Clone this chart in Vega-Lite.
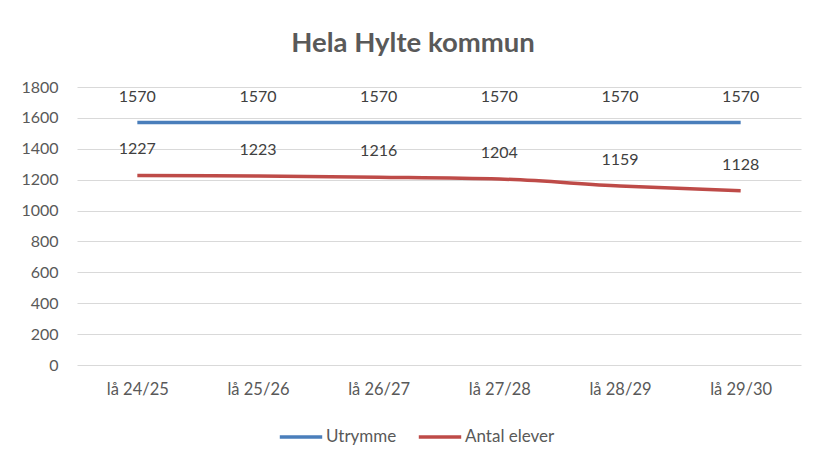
{
  "$schema": "https://vega.github.io/schema/vega-lite/v6.json",
  "width": 724,
  "height": 278,
  "autosize": {"type": "none"},
  "padding": {"left": 77, "top": 87, "right": 14, "bottom": 96},
  "background": "white",
  "config": {
    "font": "Lato",
    "view": {"stroke": null}
  },
  "title": {
    "text": "Hela Hylte kommun",
    "font": "Lato",
    "fontSize": 27.5,
    "fontWeight": "bold",
    "color": "#595959",
    "anchor": "middle",
    "dx": -26,
    "offset": 22
  },
  "data": {
    "values": [
      {"year": "lå 24/25", "series": "Utrymme", "value": 1570},
      {"year": "lå 25/26", "series": "Utrymme", "value": 1570},
      {"year": "lå 26/27", "series": "Utrymme", "value": 1570},
      {"year": "lå 27/28", "series": "Utrymme", "value": 1570},
      {"year": "lå 28/29", "series": "Utrymme", "value": 1570},
      {"year": "lå 29/30", "series": "Utrymme", "value": 1570},
      {"year": "lå 24/25", "series": "Antal elever", "value": 1227},
      {"year": "lå 25/26", "series": "Antal elever", "value": 1223},
      {"year": "lå 26/27", "series": "Antal elever", "value": 1216},
      {"year": "lå 27/28", "series": "Antal elever", "value": 1204},
      {"year": "lå 28/29", "series": "Antal elever", "value": 1159},
      {"year": "lå 29/30", "series": "Antal elever", "value": 1128}
    ]
  },
  "encoding": {
    "x": {
      "field": "year",
      "type": "ordinal",
      "sort": null,
      "scale": {"paddingInner": 0, "paddingOuter": 0},
      "axis": {
        "title": null,
        "labelAngle": 0,
        "domain": false,
        "ticks": false,
        "grid": false,
        "labelFontSize": 16.5,
        "labelColor": "#595959",
        "labelPadding": 16
      }
    },
    "y": {
      "field": "value",
      "type": "quantitative",
      "scale": {"domain": [0, 1800], "nice": false},
      "axis": {
        "title": null,
        "format": "d",
        "values": [0, 200, 400, 600, 800, 1000, 1200, 1400, 1600, 1800],
        "domain": false,
        "ticks": false,
        "gridColor": "#d9d9d9",
        "gridWidth": 1,
        "labelFontSize": 16,
        "labelColor": "#595959",
        "labelPadding": 19
      }
    },
    "color": {
      "field": "series",
      "type": "nominal",
      "sort": ["Utrymme", "Antal elever"],
      "scale": {"domain": ["Utrymme", "Antal elever"], "range": ["#4a7ebb", "#be4b48"]},
      "legend": {
        "title": null,
        "orient": "none",
        "legendX": 201,
        "legendY": 327,
        "direction": "horizontal",
        "symbolType": "stroke",
        "symbolStrokeWidth": 3.5,
        "symbolSize": 1800,
        "labelFontSize": 17,
        "labelColor": "#595959",
        "labelOffset": 2,
        "columnPadding": 14
      }
    }
  },
  "layer": [
    {
      "mark": {"type": "line", "strokeWidth": 3.5, "interpolate": "monotone"}
    },
    {
      "mark": {"type": "text", "dy": -26, "fontSize": 16, "color": "#404040"},
      "encoding": {
        "text": {"field": "value", "type": "quantitative", "format": "d"},
        "color": {"value": "#404040"}
      }
    }
  ]
}
